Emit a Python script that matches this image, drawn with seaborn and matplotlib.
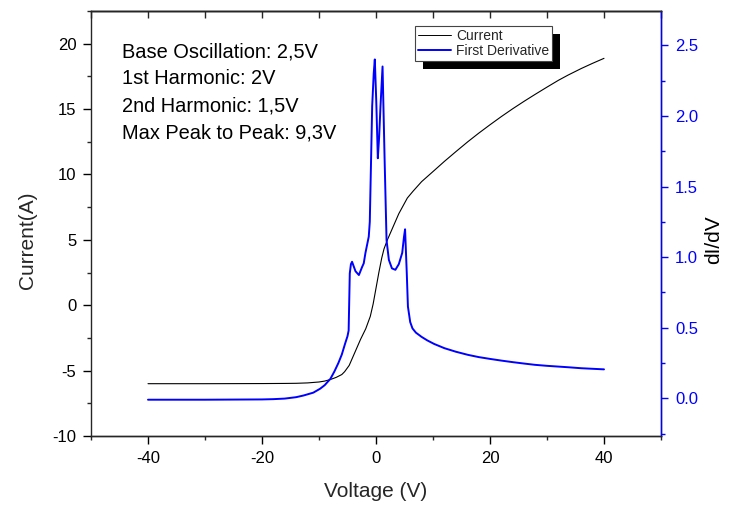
import matplotlib
matplotlib.use("Agg")
import matplotlib.pyplot as plt
from matplotlib.ticker import MultipleLocator
from matplotlib.patches import Rectangle
import pandas as pd
import seaborn as sns

# Current vs. voltage
voltage_i = [-40, -30, -20, -16, -14, -12, -10, -9, -8, -7, -6, -5.5, -4.7, -3.7, -2.7, -1.8,
             -1.0, -0.5, 0.0, 0.5, 1.0, 1.4, 2.0, 3.0, 4.0, 5.0, 5.5, 6.5, 8.0, 10.2, 12.0,
             14.0, 16.1, 18.0, 20.0, 22.0, 24.0, 26.0, 27.9, 30.0, 32.0, 33.7, 36.0, 38.0, 40.0]
current = [-6.0, -6.0, -5.99, -5.98, -5.97, -5.94, -5.87, -5.8, -5.68, -5.52, -5.3, -5.08, -4.6,
           -3.6, -2.6, -1.8, -0.85, 0.1, 1.3, 2.5, 3.6, 4.3, 5.0, 6.0, 7.0, 7.8, 8.2, 8.72,
           9.45, 10.3, 11.0, 11.74, 12.5, 13.15, 13.8, 14.43, 15.03, 15.6, 16.12, 16.68, 17.2,
           17.6, 18.1, 18.5, 18.88]

# First derivative dI/dV
voltage_d = [-40, -30, -20, -18, -16, -14, -12.7, -11, -9.8, -9, -8.0, -7.3, -6.6, -6.0, -5.4,
             -5.0, -4.8, -4.6, -4.4, -4.2, -3.6, -3.0, -2.44, -2.15, -1.85, -1.27, -1.09, -0.67,
             -0.4, -0.21, 0.05, 0.32, 0.55, 0.79, 1.15, 1.5, 1.85, 2.26, 2.8, 3.4, 4.0, 4.6,
             4.9, 5.1, 5.4, 5.6, 6.0, 6.4, 7.0, 8.0, 9.0, 10.2, 12.0, 14.0, 16.1, 18.0, 20.0,
             22.0, 24.0, 26.0, 27.9, 30.0, 33.7, 36.0, 40.0]
didv = [-0.01, -0.01, -0.008, -0.006, -0.002, 0.008, 0.02, 0.04, 0.068, 0.093, 0.138, 0.19, 0.25,
        0.31, 0.39, 0.44, 0.48, 0.885, 0.95, 0.967, 0.90, 0.873, 0.93, 0.956, 1.03, 1.145,
        1.25, 2.07, 2.3, 2.40, 2.1, 1.70, 1.85, 2.07, 2.35, 1.71, 1.12, 0.98, 0.92, 0.91,
        0.95, 1.03, 1.14, 1.197, 0.885, 0.65, 0.54, 0.495, 0.465, 0.435, 0.41, 0.385, 0.355,
        0.33, 0.308, 0.292, 0.279, 0.267, 0.256, 0.246, 0.237, 0.23, 0.22, 0.213, 0.205]

notes = ["Base Oscillation: 2,5V", "1st Harmonic: 2V", "2nd Harmonic: 1,5V",
         "Max Peak to Peak: 9,3V"]

df_i = pd.DataFrame({"Voltage": voltage_i, "Current": current})
df_d = pd.DataFrame({"Voltage": voltage_d, "dIdV": didv})

sns.set_style("ticks")
plt.rcParams["font.family"] = ["Liberation Sans", "DejaVu Sans"]
plt.rcParams["axes.linewidth"] = 1.0
plt.rcParams["axes.unicode_minus"] = False

W, H = 729, 508
fig = plt.figure(figsize=(W / 100, H / 100), dpi=100)
L, R, T, B = 91, 661, 11, 436
ax = fig.add_axes([L / W, 1 - B / H, (R - L) / W, (B - T) / H])
ax2 = ax.twinx()

sns.lineplot(data=df_i, x="Voltage", y="Current", ax=ax, color="black", lw=0.8,
             sort=False, estimator=None, label="Current", legend=False)
sns.lineplot(data=df_d, x="Voltage", y="dIdV", ax=ax2, color="blue", lw=1.4,
             sort=False, estimator=None, label="First Derivative", legend=False)

ax.set_xlim(-50, 50)
ax.set_ylim(-10, 22.5)
ax2.set_ylim(-0.267, 2.743)

ax.xaxis.set_major_locator(MultipleLocator(20))
ax.xaxis.set_minor_locator(MultipleLocator(10))
ax.yaxis.set_major_locator(MultipleLocator(5))
ax.yaxis.set_minor_locator(MultipleLocator(2.5))
ax2.yaxis.set_major_locator(MultipleLocator(0.5))
ax2.yaxis.set_minor_locator(MultipleLocator(0.25))

ax.tick_params(axis="both", which="major", direction="out", length=5.5, width=1.0,
               labelsize=12, pad=5, colors="black")
ax.tick_params(axis="both", which="minor", direction="out", length=3, width=1.0)
ax.tick_params(axis="y", right=False)
ax2.tick_params(axis="y", which="major", direction="out", length=5, width=1.0,
                labelsize=12, pad=5, colors="blue")
ax2.tick_params(axis="y", which="minor", direction="out", length=3, width=1.0, colors="blue")
ax2.spines["right"].set_color("blue")
ax2.spines["left"].set_visible(False)

top = ax.secondary_xaxis("top")
top.xaxis.set_major_locator(MultipleLocator(20))
top.xaxis.set_minor_locator(MultipleLocator(10))
top.tick_params(which="both", direction="in", length=5, width=1.0, labeltop=False)

ax.set_xlabel("Voltage (V)", fontsize=15, labelpad=12)
ax.set_ylabel("Current(A)", fontsize=15, rotation=90, va="center", ha="center")
ax2.set_ylabel("dI/dV", fontsize=15, rotation=90, va="center", ha="center", color="black")
ax.yaxis.set_label_coords((28 - L) / (R - L), (B - 240) / (B - T))
ax2.yaxis.set_label_coords((714 - L) / (R - L), (B - 240) / (B - T))

baselines = [57, 84, 111, 138]
for txt, yb in zip(notes, baselines):
    ax.text((122 - L) / (R - L), (B - yb) / (B - T), txt, transform=ax.transAxes,
            fontsize=14.4, va="baseline", ha="left", color="black")

handles = ax.get_lines()[:1] + ax2.get_lines()[:1]
leg = ax2.legend(handles, ["Current", "First Derivative"], loc="upper left",
                 bbox_to_anchor=((415 - L) / (R - L), (B - 26) / (B - T)), borderaxespad=0,
                 fontsize=10, frameon=True, fancybox=False, framealpha=1, edgecolor="#444444",
                 handlelength=2.4, handletextpad=0.35, labelspacing=0.1, borderpad=0.2)
leg.get_frame().set_linewidth(0.8)
leg.get_lines()[0].set_linewidth(0.7)
leg.set_zorder(6)

# solid drop shadow behind the legend box
fig.canvas.draw()
bb = leg.get_window_extent()
inv = ax2.transAxes.inverted()
(x0, y0), (x1, y1) = inv.transform([[bb.x0 + 8, bb.y0 - 8], [bb.x1 + 8, bb.y1 - 8]])
ax2.add_patch(Rectangle((x0, y0), x1 - x0, y1 - y0, transform=ax2.transAxes,
                        facecolor="black", edgecolor="none", clip_on=False, zorder=5.5))

fig.savefig("out.png", dpi=100)
